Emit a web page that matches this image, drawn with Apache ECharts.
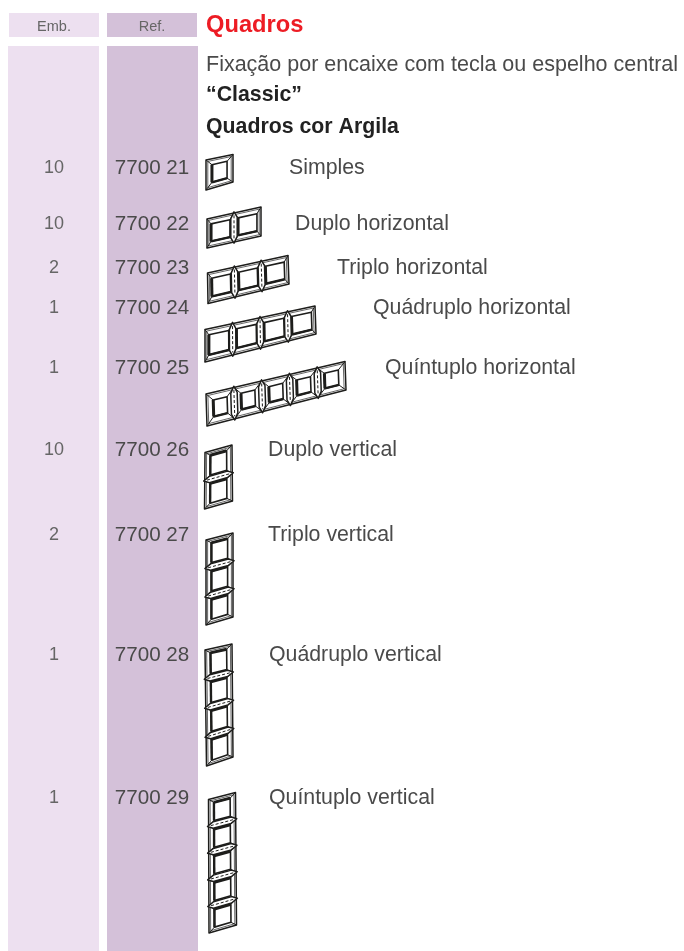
<!DOCTYPE html>
<html>
<head>
<meta charset="utf-8">
<style>html,body{margin:0;padding:0;background:#fff}#main{width:684px;height:951px}</style>
<script src="https://cdn.jsdelivr.net/npm/echarts@6/dist/echarts.min.js"></script>
</head>
<body>
<div id="main"></div>
<script>
// table content
var embs = ['10', '10', '2', '1', '1', '10', '2', '1', '1'];
var refs = ['7700 21', '7700 22', '7700 23', '7700 24', '7700 25', '7700 26', '7700 27', '7700 28', '7700 29'];
var names = ['Simples', 'Duplo horizontal', 'Triplo horizontal', 'Quádruplo horizontal', 'Quíntuplo horizontal',
    'Duplo vertical', 'Triplo vertical', 'Quádruplo vertical', 'Quíntuplo vertical'];
var cells = [1, 2, 3, 4, 5, 2, 3, 4, 5];
var headerLeft = 'Emb.';
var headerRight = 'Ref.';
var title = 'Quadros';
var intro = 'Fixação por encaixe com tecla ou espelho central';
var boldLines = ['“Classic”', 'Quadros cor Argila'];

// layout, in page pixels (the axes below run 0-684 / 0-951)
var rowY = [168, 224, 268, 308, 368, 450, 535, 655, 798];
var nameX = [289, 295, 337, 373, 385, 268, 268, 269, 269];
// corners of each frame: top left, top right, bottom right, bottom left
var frameBox = [
    [[206, 160], [233, 154.5], [233, 182], [206, 190]],
    [[207, 219], [261, 207], [261, 236], [207, 248]],
    [[207.5, 273], [288, 255.5], [289, 284], [208, 303.5]],
    [[205, 329.5], [315, 306], [316, 334], [205, 362]],
    [[206, 394], [345, 361.5], [346, 390], [207, 426]],
    [[205, 452.5], [232, 445], [232.5, 501], [204.5, 509]],
    [[206, 540], [233, 533], [233, 617], [206, 625]],
    [[205, 650], [232, 644], [233, 757], [206.5, 766]],
    [[208.5, 799.5], [235.5, 792.5], [236.5, 925], [209, 933]]
];
// how far the opening sits in from the cell edge, along and across the frame
var insetAlong = [0.22, 0.15, 0.15, 0.14, 0.25, 0.15, 0.15, 0.14, 0.16];
var insetAcross = [0.2, 0.2, 0.2, 0.19, 0.24, 0.2, 0.2, 0.2, 0.2];
var bands = [
    {x: 9, y: 13, w: 90, h: 24, c: '#ede0f0'},
    {x: 107, y: 13, w: 90, h: 24, c: '#d4c1d9'},
    {x: 8, y: 46, w: 91, h: 905, c: '#ede0f0'},
    {x: 107, y: 46, w: 91, h: 905, c: '#d4c1d9'}
];

var INK = '#1d1d1b';
var TEXT = '#4a4a4a';
var SANS = '"Liberation Sans", Arial, sans-serif';

function mix(a, b, t) {
    return [a[0] + (b[0] - a[0]) * t, a[1] + (b[1] - a[1]) * t];
}

// u runs along the frame, v across it
function drawFrame(api, box, n, vertical, iu, iv) {
    function at(u, v) {
        var p;
        if (vertical) {
            p = mix(mix(box[0], box[1], v), mix(box[3], box[2], v), u);
        } else {
            p = mix(mix(box[0], box[3], v), mix(box[1], box[2], v), u);
        }
        return api.coord(p);
    }
    function poly(pts, fill, stroke, width) {
        return {type: 'polygon', shape: {points: pts}, style: {fill: fill, stroke: stroke, lineWidth: width, lineJoin: 'round'}};
    }
    function line(pts, width, dash) {
        return {type: 'polyline', shape: {points: pts}, style: {fill: 'none', stroke: INK, lineWidth: width, lineDash: dash}};
    }
    var kids = [];
    var step = 1 / n;
    var insetU = iu * step;
    var len = vertical ? Math.abs(box[3][1] - box[0][1]) : Math.abs(box[1][0] - box[0][0]);
    var eu = 1.8 / len, ev = 0.06;
    kids.push(poly([at(0, 0), at(1, 0), at(1, 1), at(0, 1)], '#fff', INK, 1.5));
    kids.push(poly([at(eu, ev), at(1 - eu, ev), at(1 - eu, 1 - ev), at(eu, 1 - ev)], 'none', '#555', 0.9));
    for (var i = 0; i < n; i++) {
        var u0 = i * step, u1 = (i + 1) * step;
        var a = at(u0 + insetU, iv), b = at(u1 - insetU, iv),
            c = at(u1 - insetU, 1 - iv), d = at(u0 + insetU, 1 - iv);
        kids.push(line([at(u0, 0), a], 1));
        kids.push(line([at(u1, 0), b], 1));
        kids.push(line([at(u1, 1), c], 1));
        kids.push(line([at(u0, 1), d], 1));
        kids.push(poly([a, b, c, d], '#fff', INK, 1.6));
        // inner wall of the opening, darker on the shaded sides
        if (vertical) {
            kids.push(line([a, d], 3));
            kids.push(line([a, b], 2.4));
        } else {
            kids.push(line([a, d], 3));
            kids.push(line([d, c], 2.4));
        }
    }
    // lens shaped joint between two neighbouring cells
    var w = 3.2 / len;
    for (var j = 1; j < n; j++) {
        var m = j * step;
        kids.push(poly([at(m, -0.04), at(m + w, 0.17), at(m + w, 0.83), at(m, 1.04), at(m - w, 0.83), at(m - w, 0.17)], '#fff', INK, 1.5));
        kids.push(line([at(m, 0.08), at(m, 0.92)], 1, [3, 2]));
    }
    return kids;
}

var chart = echarts.init(document.getElementById('main'), null, {renderer: 'canvas'});

function textItem(api, str, x, y, font, color, align) {
    var p = api.coord([x, y]);
    return {type: 'text', style: {text: str, x: p[0], y: p[1], font: font, fill: color, align: align || 'left', verticalAlign: 'middle'}};
}

chart.setOption({
    animation: false,
    backgroundColor: '#fff',
    grid: {left: 0, right: 0, top: 0, bottom: 0},
    xAxis: {type: 'value', min: 0, max: 684, show: false},
    yAxis: {type: 'value', min: 0, max: 951, inverse: true, show: false},
    series: [
        {
            type: 'custom',
            clip: false,
            silent: true,
            data: bands.map(function (b, i) { return [b.x, b.y, i]; }),
            renderItem: function (params, api) {
                var b = bands[api.value(2)];
                var p = api.coord([b.x, b.y]);
                var s = api.size([b.w, b.h]);
                return {type: 'rect', shape: {x: p[0], y: p[1], width: s[0], height: s[1]}, style: {fill: b.c}};
            }
        },
        {
            type: 'custom',
            clip: false,
            silent: true,
            data: [[0, 0]],
            renderItem: function (params, api) {
                return {type: 'group', children: [
                    textItem(api, headerLeft, 54, 27, '14.5px ' + SANS, '#666', 'center'),
                    textItem(api, headerRight, 152, 27, '14.5px ' + SANS, '#666', 'center'),
                    textItem(api, title, 206, 25, 'bold 23.7px ' + SANS, '#ed1c24'),
                    textItem(api, intro, 206, 65, '21.5px ' + SANS, TEXT),
                    textItem(api, boldLines[0], 206, 95, 'bold 21.3px ' + SANS, '#222'),
                    textItem(api, boldLines[1], 206, 127, 'bold 21.3px ' + SANS, '#222')
                ]};
            }
        },
        {
            type: 'custom',
            clip: false,
            silent: true,
            data: rowY.map(function (y, i) { return [nameX[i], y, i]; }),
            renderItem: function (params, api) {
                var i = api.value(2), y = rowY[i];
                return {type: 'group', children: [
                    textItem(api, embs[i], 54, y, '18px ' + SANS, '#666', 'center'),
                    textItem(api, refs[i], 152, y, '20.6px ' + SANS, TEXT, 'center'),
                    textItem(api, names[i], nameX[i], y, '21.3px ' + SANS, TEXT)
                ]};
            }
        },
        {
            type: 'custom',
            clip: false,
            silent: true,
            data: cells.map(function (n, i) { return [frameBox[i][0][0], frameBox[i][0][1], i]; }),
            renderItem: function (params, api) {
                var i = api.value(2);
                return {type: 'group', children: drawFrame(api, frameBox[i], cells[i], i >= 5, insetAlong[i], insetAcross[i])};
            }
        }
    ]
});
</script>
</body>
</html>
